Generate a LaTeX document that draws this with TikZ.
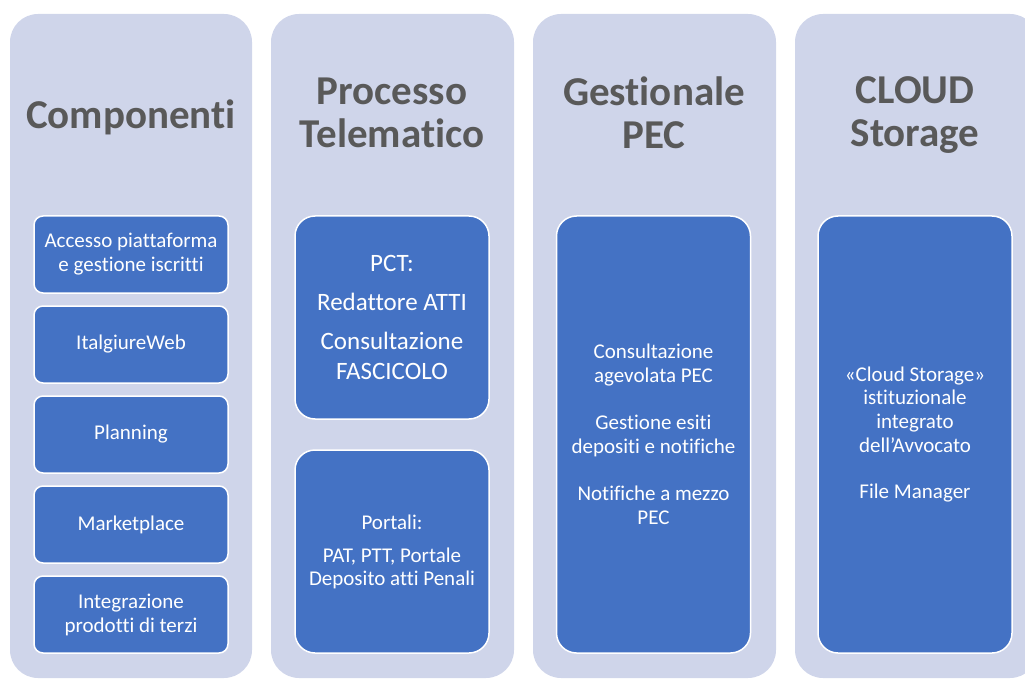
\documentclass[tikz,border=0pt]{standalone}
\usepackage{fontspec}
\setmainfont{Carlito}[Ligatures=NoCommon]
\usetikzlibrary{positioning}

\definecolor{panelbg}{HTML}{CFD5EA}
\definecolor{boxblue}{HTML}{4472C4}
\definecolor{titlegray}{HTML}{595959}

\tikzset{
  panel/.style={fill=panelbg, rounded corners=28pt},
  coltitle/.style={font=\fontsize{41}{43}\selectfont\bfseries, text=titlegray, align=center},
  item/.style={rectangle, draw=white, line width=1.5pt, fill=boxblue, text=white,
    align=center, inner sep=0pt, minimum width=194pt},
  smallitem/.style={item, rounded corners=9pt, minimum height=77pt, font=\fontsize{21}{24}\selectfont},
  bigitem/.style={item, rounded corners=20pt}
}

\begin{document}
\begin{tikzpicture}[x=1pt, y=-1pt]
        \useasboundingbox (0,0) rectangle (1025,679);
        \clip (0,0) rectangle (1025,679);

        % Column backgrounds
        \fill[panel] (10,14) rectangle (252,678);
        \fill[panel] (271,14) rectangle (514,678);
        \fill[panel] (533,14) rectangle (776,678);
        \fill[panel] (795,14) rectangle (1038,678);

        % Column titles
        \node[coltitle] (comp) at (131,117) {Componenti};
        \node[coltitle] (proc) at (392,113) {Processo\\Telematico};
        \node[coltitle] (gest) at (654,113) {Gestionale\\PEC};
        \node[coltitle] (cloud) at (915,115) {CLOUD\\Storage};

        % Componenti: stack of small boxes
        \node[smallitem] (acc) at (131,254.5) {Accesso piattaforma\\e gestione iscritti};
        \node[smallitem, below=11.5pt of acc] (italg) {ItalgiureWeb};
        \node[smallitem, below=11.5pt of italg] (plan) {Planning};
        \node[smallitem, below=11.5pt of plan] (market) {Marketplace};
        \node[smallitem, below=11.5pt of market] (integr) {Integrazione\\prodotti di terzi};

        % Processo Telematico
        \node[bigitem, minimum height=203pt, font=\fontsize{25}{30}\selectfont] (pct) at (392,317.5)
            {PCT:\\[9pt]Redattore ATTI\\[9pt]Consultazione\\FASCICOLO};
        \node[bigitem, minimum height=203pt, font=\fontsize{21}{23}\selectfont, below=29.5pt of pct] (portali)
            {Portali:\\[10pt]PAT, PTT, Portale\\Deposito atti Penali};

        % Gestionale PEC
        \node[bigitem, minimum height=437pt, font=\fontsize{21}{24}\selectfont] (pec) at (653.5,434.5)
            {Consultazione\\agevolata PEC\\[23pt]Gestione esiti\\depositi e notifiche\\[23pt]Notifiche a mezzo\\PEC};

        % CLOUD Storage
        \node[bigitem, minimum height=437pt, font=\fontsize{21}{23.7}\selectfont] (store) at (915,434.5)
            {«Cloud Storage»\\istituzionale\\integrato\\dell’Avvocato\\[23pt]File Manager};
\end{tikzpicture}
\end{document}
